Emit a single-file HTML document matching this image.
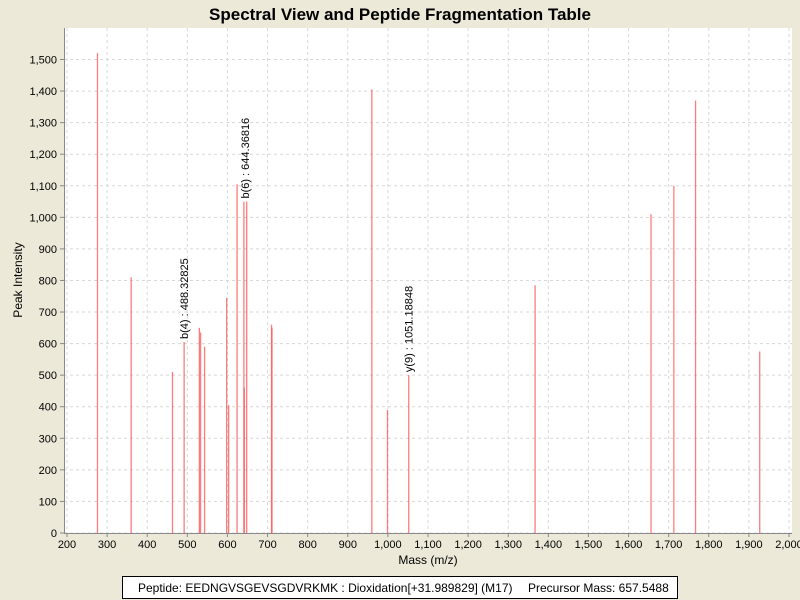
<!DOCTYPE html>
<html><head><meta charset="utf-8"><style>
body{margin:0;background:#ece9d8;font-family:"Liberation Sans",sans-serif;}
svg{display:block}
</style></head><body>
<svg id="c" width="800" height="600">
<rect x="0" y="0" width="800" height="600" fill="#ece9d8"/>
<text x="400" y="20" text-anchor="middle" font-size="17" font-weight="bold" fill="#000">Spectral View and Peptide Fragmentation Table</text>
<rect x="64" y="28" width="728" height="505" fill="#fff"/>
<g id="grid"></g><g id="peaks"></g><g id="axes"></g>
<text x="428" y="564" text-anchor="middle" font-size="12">Mass (m/z)</text>
<text transform="translate(22,280) rotate(-90)" text-anchor="middle" font-size="12">Peak Intensity</text>
<g>
<rect x="122.5" y="576.5" width="555" height="22" fill="#fff" stroke="#000"/>
<text x="138" y="592" font-size="12">Peptide: EEDNGVSGEVSGDVRKMK : Dioxidation[+31.989829] (M17)</text>
<text x="528" y="592" font-size="12">Precursor Mass: 657.5488</text>
</g>
</svg>
<script>
const masses=[276,360,463,492,530,533,543,598,603,624,641,642,648,710,711,960,999,1052,1367,1656,1713,1767,1927];
const intensities=[1520,810,510,605,650,635,590,745,405,1105,1050,460,1050,660,650,1405,390,500,785,1010,1100,1370,575];
const annMass=[492,644.36816,1052];
const annText=["b(4) : 488.32825","b(6) : 644.36816","y(9) : 1051.18848"];
const annInt=[605,1050,500];
const xTicks=[200,300,400,500,600,700,800,900,1000,1100,1200,1300,1400,1500,1600,1700,1800,1900,2000];
const yTicks=[0,100,200,300,400,500,600,700,800,900,1000,1100,1200,1300,1400,1500];
const NS='http://www.w3.org/2000/svg';
const X=m=>67+(m-200)*722/1800;
const Y=v=>533-v*473.5/1500;
const fmt=n=>n.toLocaleString('en-US');
function mk(t,a,p){const e=document.createElementNS(NS,t);for(const k in a)e.setAttribute(k,a[k]);p.appendChild(e);return e;}
const g=document.getElementById('grid'),pk=document.getElementById('peaks'),ax=document.getElementById('axes');
xTicks.forEach(t=>{const x=X(t);
 const l=mk('line',{x1:x,x2:x,y1:28,y2:533,stroke:'#d8d8d8','stroke-dasharray':'3,3'},g);
 
 
 mk('line',{x1:x,x2:x,y1:533,y2:537,stroke:'#888'},ax);
 const tx=mk('text',{x:x,y:548,'text-anchor':'middle','font-size':'11'},ax);tx.textContent=fmt(t);
 
 });
yTicks.forEach(t=>{const y=Y(t);
 const l=mk('line',{x1:64,x2:792,y1:y,y2:y,stroke:'#d8d8d8','stroke-dasharray':'3,3'},g);
 
 
 mk('line',{x1:60,x2:64,y1:y,y2:y,stroke:'#888'},ax);
 const tx=mk('text',{x:57,y:y+4,'text-anchor':'end','font-size':'11'},ax);tx.textContent=fmt(t);
 
 });
mk('line',{x1:64,x2:792,y1:533.5,y2:533.5,stroke:'#888'},ax);
mk('line',{x1:64.5,x2:64.5,y1:28,y2:533,stroke:'#888'},ax);
masses.forEach((m,i)=>{const x=X(m);
 const l=mk('line',{x1:x,x2:x,y1:533,y2:Y(intensities[i]),stroke:'#ff5050','stroke-opacity':'0.75','stroke-width':'1.3'},pk);
 
 });
annMass.forEach((m,i)=>{const x=X(m)+4,y=Y(annInt[i])-3;
 const t=mk('text',{transform:`translate(${x},${y}) rotate(-90)`,'font-size':'11'},pk);t.textContent=annText[i];
 
 });
</script>
</body></html>
